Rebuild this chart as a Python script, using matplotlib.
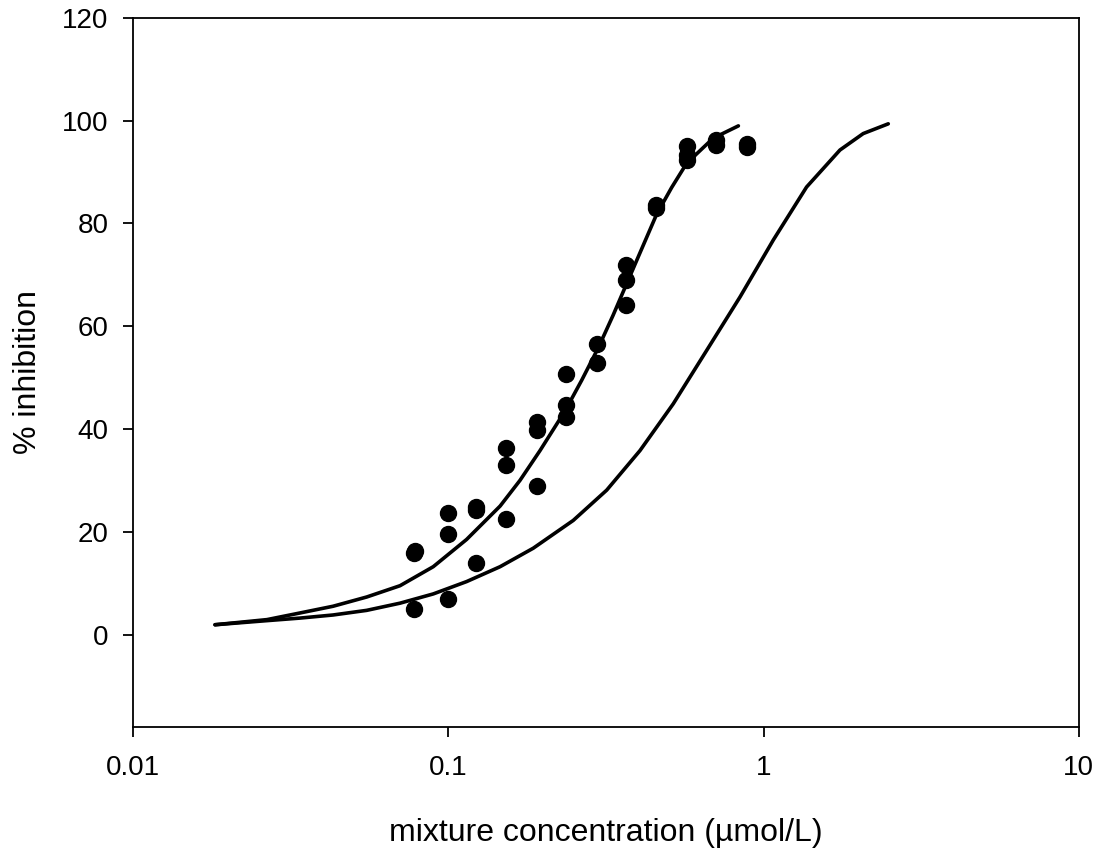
import matplotlib
matplotlib.use('Agg')
from matplotlib import pyplot as plt

# observed mixture data (umol/L, % inhibition)
conc = [0.078, 0.078, 0.0784,
        0.0998, 0.0998, 0.0998,
        0.122, 0.122, 0.122,
        0.152, 0.152, 0.152,
        0.1906, 0.1906, 0.1906,
        0.236, 0.236, 0.236,
        0.296, 0.296,
        0.366, 0.366, 0.366,
        0.455, 0.455,
        0.570, 0.570, 0.570,
        0.707, 0.707,
        0.884, 0.884]
inhib = [5.0, 15.8, 16.2,
         7.0, 19.6, 23.6,
         13.9, 24.2, 24.8,
         22.5, 32.9, 36.3,
         29.0, 39.9, 41.4,
         50.8, 44.6, 42.3,
         56.6, 52.9,
         71.9, 69.0, 64.1,
         83.1, 83.6,
         95.1, 93.3, 92.3,
         96.2, 95.2,
         95.4, 94.9]

# fitted curve
fit_x = [0.0182, 0.0266, 0.0339, 0.0431, 0.0551, 0.0703, 0.0896, 0.1143,
         0.146, 0.1688, 0.1954, 0.2345, 0.265, 0.299, 0.333, 0.368,
         0.458, 0.511, 0.570, 0.692, 0.832]
fit_y = [1.9, 2.9, 4.2, 5.5, 7.3, 9.5, 13.2, 18.5,
         25.0, 30.0, 35.8, 43.5, 49.5, 55.8, 62.1, 68.3,
         81.8, 87.0, 91.7, 96.6, 99.0]

# predicted (concentration addition) curve
pred_x = [0.0182, 0.0266, 0.0339, 0.0431, 0.0551, 0.0703, 0.0896, 0.1143,
          0.146, 0.186, 0.249, 0.318, 0.4055, 0.517, 0.660, 0.842,
          1.074, 1.369, 1.747, 2.07, 2.486]
pred_y = [1.9, 2.7, 3.2, 3.8, 4.7, 6.1, 7.9, 10.3,
          13.2, 16.8, 22.2, 28.1, 35.8, 44.9, 55.3, 65.7,
          76.8, 87.1, 94.3, 97.5, 99.4]

plt.rcParams['font.family'] = ['Liberation Sans', 'DejaVu Sans']

fig = plt.figure(figsize=(11.02, 8.48), dpi=100)
ax = fig.add_axes([0.1207, 0.1427, 0.8583, 0.8361])

ax.plot(fit_x, fit_y, color='black', lw=2.6, solid_capstyle='round',
        solid_joinstyle='round')
ax.plot(pred_x, pred_y, color='black', lw=2.6, solid_capstyle='round',
        solid_joinstyle='round')
ax.plot(conc, inhib, 'o', color='black', markersize=11.5)

ax.set_xscale('log')
ax.set_xlim(0.01, 10)
ax.set_ylim(-18, 120)
ax.set_xticks([0.01, 0.1, 1, 10])
ax.set_xticklabels(['0.01', '0.1', '1', '10'])
ax.minorticks_off()
ax.set_yticks([0, 20, 40, 60, 80, 100, 120])

for s in ax.spines.values():
    s.set_linewidth(1.3)
ax.tick_params(direction='out', length=7.5, width=1.3, labelsize=20, pad=10)
ax.tick_params(axis='x', pad=13)

ax.set_xlabel('mixture concentration (\u00b5mol/L)', fontsize=23, labelpad=26)
ax.set_ylabel('% inhibition', fontsize=23, labelpad=14)

fig.savefig('out.png', dpi=100)
